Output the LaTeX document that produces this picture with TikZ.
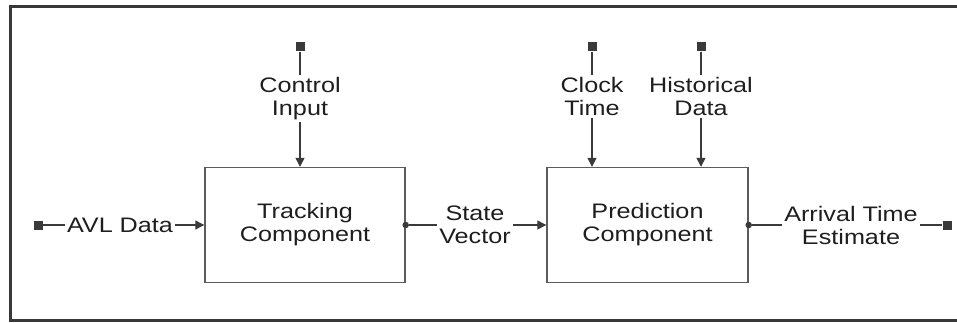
\documentclass[tikz,border=0pt]{standalone}
\usepackage{fontspec}
\setmainfont{Liberation Sans}[FakeStretch=1.2]
\usetikzlibrary{arrows.meta}
\definecolor{linegray}{HTML}{3A3A3A}
\definecolor{boxgray}{HTML}{5C5C5C}
\definecolor{framegray}{HTML}{383838}
\definecolor{txt}{HTML}{1E1E1E}

\begin{document}
\begin{tikzpicture}[
x=1pt,y=1pt,
every node/.style={
  font=\fontsize{21}{23}\selectfont
},
block/.style={
  draw=boxgray,
  line width=1.4pt,
  minimum width=200pt,
  minimum height=115pt,
  align=center,
  text=txt
},
lbl/.style={
  align=center,
  inner sep=2pt,
  text=txt
},
term/.style={
  fill=linegray,
  minimum size=9pt,
  inner sep=0pt
},
junc/.style={
  circle,
  fill=linegray,
  minimum size=6.5pt,
  inner sep=0pt
},
link/.style={
  draw=linegray,
  line width=1.3pt
},
flow/.style={
  link,
  -{Triangle[length=9pt,width=9pt]}
}
]
\useasboundingbox (0,0) rectangle (957,322);
\draw[line width=3pt,framegray] (957,315) -- (10,315) -- (10,2) -- (957,2);

% the two components
\node[block] (track) at (305,97) {Tracking\\Component};
\node[block,minimum width=201pt] (pred) at (647.5,97) {Prediction\\Component};

% AVL input
\node[term] (avlin) at (38,97) {};
\node[lbl] (avl) at (120,97) {AVL Data};
\draw[link] (avlin) -- (avl);
\draw[flow] (avl) -- (track);

% control input
\node[term] (ctlin) at (300,275) {};
\node[lbl] (ctl) at (300,223.5) {Control\\Input};
\draw[link] (ctlin) -- (ctl);
\draw[flow] (ctl) -- (ctl |- track.north);

% state vector
\node[junc] (trackdot) at (track.east) {};
\node[lbl] (state) at (475,97) {State\\Vector};
\draw[link] (trackdot) -- (state);
\draw[flow] (state) -- (pred);

% clock and history
\node[term] (clkin) at (592,275) {};
\node[lbl] (clk) at (592,225.5) {Clock\\Time};
\draw[link] (clkin) -- (clk);
\draw[flow] (clk) -- (clk |- pred.north);

\node[term] (histin) at (701,275) {};
\node[lbl] (hist) at (701,225.5) {Historical\\Data};
\draw[link] (histin) -- (hist);
\draw[flow] (hist) -- (hist |- pred.north);

% output
\node[junc] (preddot) at (pred.east) {};
\node[lbl] (eta) at (851,97) {Arrival Time\\Estimate};
\node[term] (etaout) at (947,97) {};
\draw[link] (preddot) -- (eta);
\draw[link] (eta) -- (etaout);
\end{tikzpicture}
\end{document}
